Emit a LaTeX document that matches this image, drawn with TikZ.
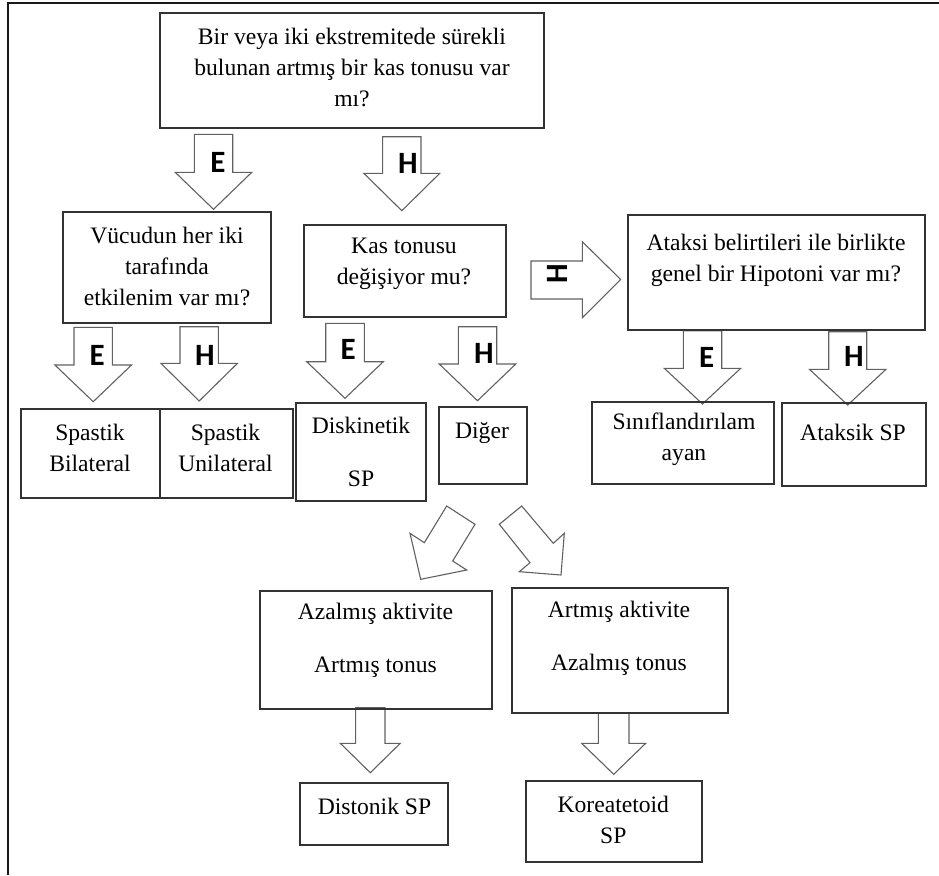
\documentclass[tikz,border=0pt]{standalone}
\usepackage{fontspec}
\setmainfont{Liberation Serif}
\newfontfamily\lblfont{Carlito}
\usepackage{tikz}

\tikzset{
  box/.style={draw=black!80,line width=1.3pt,inner sep=0pt},
  txt/.style={align=center,inner sep=0pt,font=\fontsize{23.6}{31}\selectfont},
  blk/.style={draw=black!62,line width=1.1pt,fill=white,line join=miter},
  lbl/.style={inner sep=0pt,font=\lblfont\bfseries\fontsize{31}{31}\selectfont},
}
\newcommand{\downblk}[6]{%
  \draw[blk] (#1-#5,#2) -- (#1+#5,#2) -- (#1+#5,#3) -- (#1+#6,#3)
    -- (#1,#4) -- (#1-#6,#3) -- (#1-#5,#3) -- cycle;}

\begin{document}
\begin{tikzpicture}[x=1pt,y=-1pt]
\useasboundingbox (0,0) rectangle (939,875);
\draw[line width=1.8pt,black!90] (8,875) -- (8,3) -- (939,3);

\downblk{213.5}{134.3}{172.3}{209.3}{19.2}{38.3}
\downblk{401.8}{136.7}{173.3}{210.7}{19.2}{38}
\downblk{93.2}{327.3}{365}{401.7}{19.2}{38.3}
\downblk{199.2}{326.7}{363.3}{401}{19.2}{38.3}
\downblk{345}{323.3}{361.7}{398.3}{19.3}{38.3}
\downblk{477.5}{326.7}{364}{400.7}{19.2}{38.3}
\downblk{702.5}{330.7}{368.3}{404}{19.2}{38.2}
\downblk{847.7}{331.7}{369.3}{405}{19}{38.3}
\downblk{370.3}{707.7}{743.3}{772.7}{14.7}{30}
\downblk{613.7}{712.7}{743.3}{774.3}{15.3}{32}
\draw[blk] (531,261) -- (582.3,261) -- (582.3,241.7) -- (620.7,279.5)
  -- (582.3,317.7) -- (582.3,299) -- (531,299) -- cycle;
\draw[blk] (446.7,506) -- (475,524.3) -- (452.7,561) -- (466.7,570)
  -- (420.7,579.3) -- (410,533.3) -- (424.3,542.7) -- cycle;
\draw[blk] (521.7,506) -- (499.3,524.3) -- (530,562.7) -- (519.3,571.7)
  -- (561,575) -- (564.3,533.3) -- (553.3,543.3) -- cycle;

\node[lbl] (le1) at (218,162.5) {E};
\node[lbl] (lh1) at (408,163.5) {H};
\node[lbl] (le2) at (97.3,355) {E};
\node[lbl] (lh2) at (205,355) {H};
\node[lbl] (le3) at (348.3,349.3) {E};
\node[lbl] (lh3) at (484,353.3) {H};
\node[lbl,rotate=90] (lh4) at (557,273.3) {H};
\node[lbl] (le5) at (706.7,357.7) {E};
\node[lbl] (lh5) at (854,356.7) {H};

\node[box,minimum width=384pt,minimum height=115pt] (q0) at (352,70.5) {};
\node[box,minimum width=208pt,minimum height=111pt] (q1) at (167,267.5) {};
\node[box,minimum width=202pt,minimum height=92pt] (q2) at (405,271) {};
\node[box,minimum width=297pt,minimum height=115pt] (q3) at (776.5,272.5) {};
\node[box,minimum width=139pt,minimum height=89pt] (r1) at (90.5,453.5) {};
\node[box,minimum width=133pt,minimum height=89pt] (r2) at (226.5,453.5) {};
\node[box,minimum width=130pt,minimum height=98pt] (r3) at (361,452) {};
\node[box,minimum width=88pt,minimum height=77pt] (r4) at (483,445.5) {};
\node[box,minimum width=182pt,minimum height=82pt] (r5) at (683,443) {};
\node[box,minimum width=144pt,minimum height=83pt] (r6) at (854,444.5) {};
\node[box,minimum width=232pt,minimum height=118pt] (s1) at (376,650) {};
\node[box,minimum width=216pt,minimum height=125pt] (s2) at (620,650.5) {};
\node[box,minimum width=148pt,minimum height=62pt] (t1) at (374,814) {};
\node[box,minimum width=176pt,minimum height=81pt] (t2) at (614,821.5) {};

\node[txt] (q0t) at (352,67) {Bir veya iki ekstremitede sürekli\\bulunan artmış bir kas tonusu var\\mı?};
\node[txt] (q1t) at (167,266.5) {Vücudun her iki\\tarafında\\etkilenim var mı?};
\node[txt] (q2t) at (404,264) {Kas tonusu\\değişiyor mu?};
\node[txt] (q3t) at (776,260.7) {Ataksi belirtileri ile birlikte\\genel bir Hipotoni var mı?};
\node[txt] (r1t) at (90,448) {Spastik\\Bilateral};
\node[txt] (r2t) at (225.5,448) {Spastik\\Unilateral};
\node[txt] (r3t) at (361,451.5) {Diskinetik\\[22pt]SP};
\node[txt] (r4t) at (482,433) {Diğer};
\node[txt] (r5t) at (684,439) {Sınıflandırılam\\ayan};
\node[txt] (r6t) at (853,432.3) {Ataksik SP};
\node[txt] (s1t) at (375.5,640) {Azalmış aktivite\\[22pt]Artmış tonus};
\node[txt] (s2t) at (619,638.3) {Artmış aktivite\\[22pt]Azalmış tonus};
\node[txt] (t1t) at (374.5,806.7) {Distonik SP};
\node[txt] (t2t) at (613.3,820) {Koreatetoid\\SP};
\end{tikzpicture}
\end{document}
